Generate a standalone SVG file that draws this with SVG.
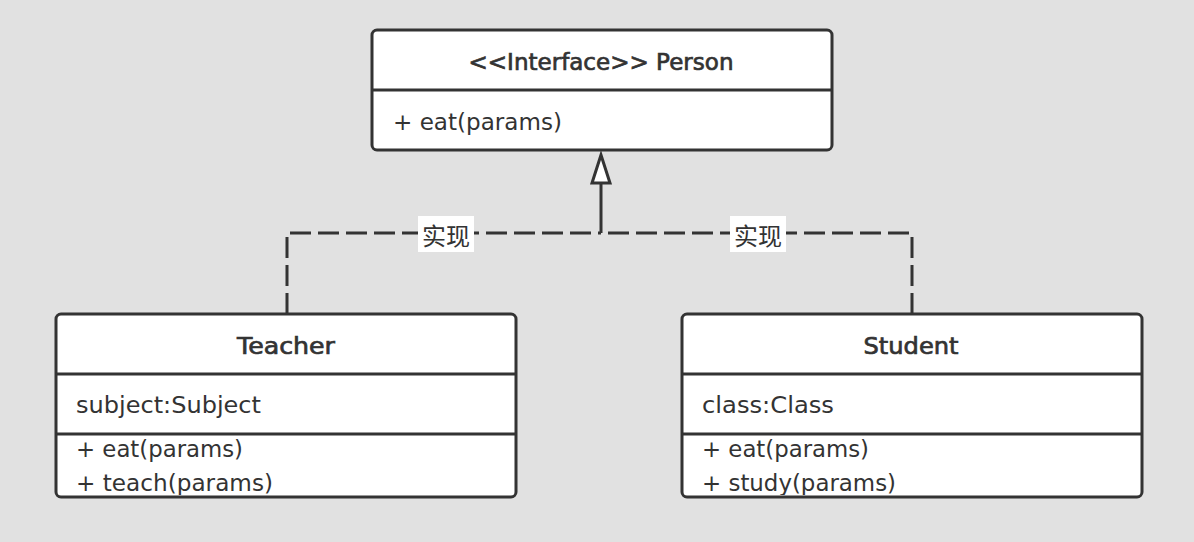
<svg xmlns="http://www.w3.org/2000/svg" width="1194" height="542" viewBox="0 0 1194 542">
<style>
.box{fill:#ffffff;stroke:#333333;stroke-width:3}
.div{stroke:#333333;stroke-width:3;fill:none}
.title{font-family:"DejaVu Sans","Liberation Sans",sans-serif;font-size:23px;font-weight:normal;fill:#333333;stroke:#333333;stroke-width:0.7;text-anchor:middle}
.txt{font-family:"DejaVu Sans","Liberation Sans",sans-serif;font-size:22.5px;fill:#333333}
.edge{fill:none;stroke:#333333;stroke-width:3;stroke-dasharray:21 7}
.stem{fill:none;stroke:#333333;stroke-width:3}
.head{fill:#ffffff;stroke:#333333;stroke-width:3;stroke-linejoin:miter}
.lblbg{fill:#ffffff}
.lbl{font-family:"Noto Sans CJK SC","Noto Sans CJK JP",sans-serif;font-size:24px;fill:#333333;text-anchor:middle;dominant-baseline:central}
</style>
<defs>
<clipPath id="cT"><rect x="57" y="435" width="458" height="60"/></clipPath>
<clipPath id="cS"><rect x="683" y="435" width="458" height="60"/></clipPath>
</defs>
<rect x="0" y="0" width="1194" height="542" fill="#e1e1e1"/>
<g id="connectors">
<path class="edge" d="M287,314 V233 H601"/>
<path class="edge" d="M912,314 V233 H601"/>
<path class="stem" d="M601,233 V183"/>
<polygon class="head" points="601,155 610,183 592,183"/>
<g id="label1"><rect class="lblbg" x="418" y="216" width="56" height="36"/><text class="lbl" x="446" y="234.5">实现</text></g>
<g id="label2"><rect class="lblbg" x="730" y="216" width="56" height="36"/><text class="lbl" x="758" y="234.5">实现</text></g>
</g>
<g id="person">
<rect class="box" x="372" y="30" width="460" height="120" rx="5"/>
<line class="div" x1="372" y1="90" x2="832" y2="90"/>
<text class="title" x="601" y="70" textLength="265" lengthAdjust="spacingAndGlyphs">&lt;&lt;Interface&gt;&gt; Person</text>
<text class="txt" x="393" y="130" textLength="169" lengthAdjust="spacingAndGlyphs">+ eat(params)</text>
</g>
<g id="teacher">
<rect class="box" x="56" y="314" width="460" height="183" rx="5"/>
<line class="div" x1="56" y1="374" x2="516" y2="374"/>
<line class="div" x1="56" y1="434" x2="516" y2="434"/>
<text class="title" x="286" y="354" textLength="98" lengthAdjust="spacingAndGlyphs">Teacher</text>
<text class="txt" x="76" y="413" textLength="185" lengthAdjust="spacingAndGlyphs">subject:Subject</text>
<g clip-path="url(#cT)">
<text class="txt" x="76" y="457" textLength="167" lengthAdjust="spacingAndGlyphs">+ eat(params)</text>
<text class="txt" x="76" y="491" textLength="197" lengthAdjust="spacingAndGlyphs">+ teach(params)</text>
</g>
</g>
<g id="student">
<rect class="box" x="682" y="314" width="460" height="183" rx="5"/>
<line class="div" x1="682" y1="374" x2="1142" y2="374"/>
<line class="div" x1="682" y1="434" x2="1142" y2="434"/>
<text class="title" x="911" y="354" textLength="95" lengthAdjust="spacingAndGlyphs">Student</text>
<text class="txt" x="702" y="413" textLength="132" lengthAdjust="spacingAndGlyphs">class:Class</text>
<g clip-path="url(#cS)">
<text class="txt" x="702" y="457" textLength="167" lengthAdjust="spacingAndGlyphs">+ eat(params)</text>
<text class="txt" x="702" y="491" textLength="194" lengthAdjust="spacingAndGlyphs">+ study(params)</text>
</g>
</g>
</svg>
